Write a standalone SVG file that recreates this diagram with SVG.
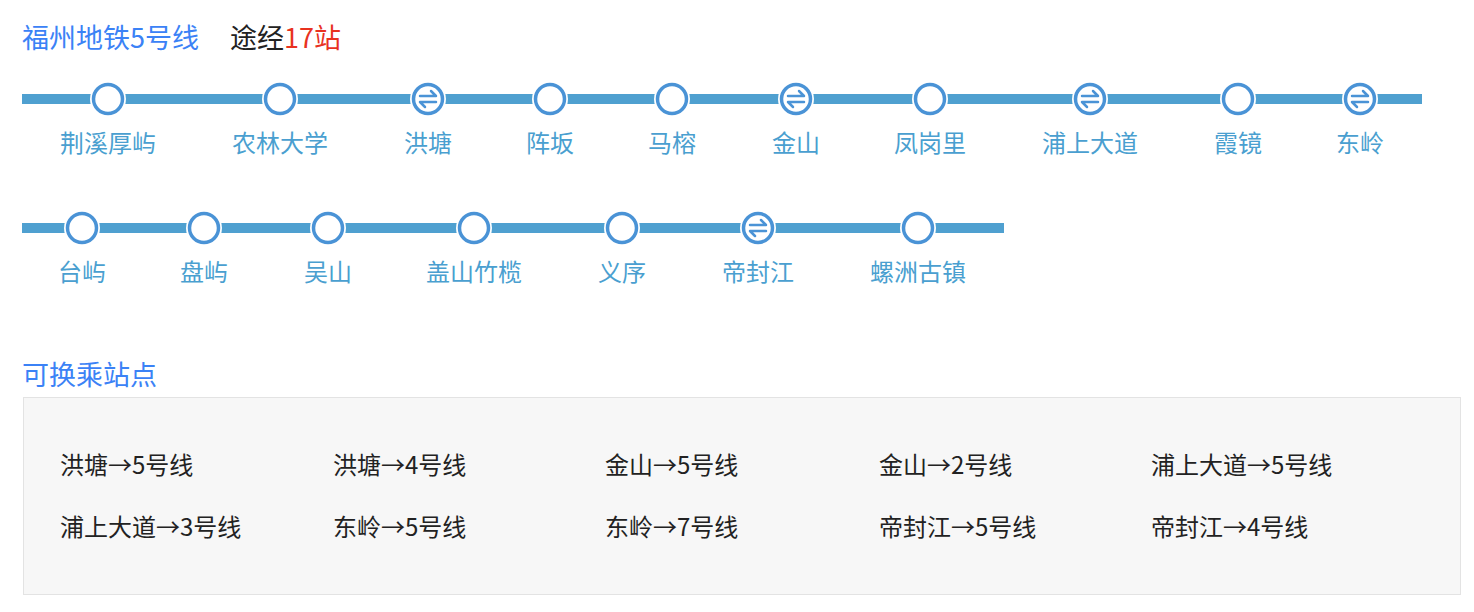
<svg xmlns="http://www.w3.org/2000/svg" width="1474" height="612" viewBox="0 0 1474 612">
<style>
text{font-family:"Noto Sans CJK SC","Liberation Sans",sans-serif}
.ln{stroke:#4fa0d0;stroke-width:10;fill:none}
.st{fill:#fff;stroke:#4a93d6;stroke-width:3.5}
.lb{fill:#4a9fd0;font-size:24px;text-anchor:middle}
.tr{fill:#222;font-size:24px}
.ic{stroke:#4a93d6;stroke-width:2.5;fill:none;stroke-linecap:round;stroke-linejoin:round}
</style>
<defs>
<g id="s"><circle r="18" fill="#fff"/><circle r="14.5" class="st"/></g>
<g id="x"><circle r="18" fill="#fff"/><circle r="14.5" class="st"/><path class="ic" d="M-8,-3 H8 L3,-8 M8,3 H-8 L-3,8"/></g>
</defs>
<text x="22" y="48" font-size="27" fill="#3b82f6">福州地铁5号线</text>
<text x="230" y="48" font-size="27" fill="#222">途经<tspan fill="#e8321f">17站</tspan></text>
<g id="connectors">
<line class="ln" x1="22" y1="99" x2="1422" y2="99"/>
<line class="ln" x1="22" y1="228" x2="1004" y2="228"/>
</g>
<g id="n1"><use href="#s" x="108" y="99"/><text class="lb" x="108" y="152">荆溪厚屿</text></g>
<g id="n2"><use href="#s" x="280" y="99"/><text class="lb" x="280" y="152">农林大学</text></g>
<g id="n3"><use href="#x" x="428" y="99"/><text class="lb" x="428" y="152">洪塘</text></g>
<g id="n4"><use href="#s" x="550" y="99"/><text class="lb" x="550" y="152">阵坂</text></g>
<g id="n5"><use href="#s" x="672" y="99"/><text class="lb" x="672" y="152">马榕</text></g>
<g id="n6"><use href="#x" x="796" y="99"/><text class="lb" x="796" y="152">金山</text></g>
<g id="n7"><use href="#s" x="930" y="99"/><text class="lb" x="930" y="152">凤岗里</text></g>
<g id="n8"><use href="#x" x="1090" y="99"/><text class="lb" x="1090" y="152">浦上大道</text></g>
<g id="n9"><use href="#s" x="1238" y="99"/><text class="lb" x="1238" y="152">霞镜</text></g>
<g id="n10"><use href="#x" x="1360" y="99"/><text class="lb" x="1360" y="152">东岭</text></g>
<g id="n11"><use href="#s" x="82" y="228"/><text class="lb" x="82" y="281">台屿</text></g>
<g id="n12"><use href="#s" x="204" y="228"/><text class="lb" x="204" y="281">盘屿</text></g>
<g id="n13"><use href="#s" x="328" y="228"/><text class="lb" x="328" y="281">吴山</text></g>
<g id="n14"><use href="#s" x="474" y="228"/><text class="lb" x="474" y="281">盖山竹榄</text></g>
<g id="n15"><use href="#s" x="622" y="228"/><text class="lb" x="622" y="281">义序</text></g>
<g id="n16"><use href="#x" x="758" y="228"/><text class="lb" x="758" y="281">帝封江</text></g>
<g id="n17"><use href="#s" x="918" y="228"/><text class="lb" x="918" y="281">螺洲古镇</text></g>
<text x="22" y="385" font-size="27" fill="#3b82f6">可换乘站点</text>
<rect x="23.5" y="397.5" width="1437" height="197" fill="#f7f7f7" stroke="#e3e3e3"/>
<g class="tr">
<text class="tr" x="60" y="474">洪塘→5号线</text>
<text class="tr" x="333" y="474">洪塘→4号线</text>
<text class="tr" x="605" y="474">金山→5号线</text>
<text class="tr" x="879" y="474">金山→2号线</text>
<text class="tr" x="1151" y="474">浦上大道→5号线</text>
<text class="tr" x="60" y="536">浦上大道→3号线</text>
<text class="tr" x="333" y="536">东岭→5号线</text>
<text class="tr" x="605" y="536">东岭→7号线</text>
<text class="tr" x="879" y="536">帝封江→5号线</text>
<text class="tr" x="1151" y="536">帝封江→4号线</text>
</g>
</svg>
